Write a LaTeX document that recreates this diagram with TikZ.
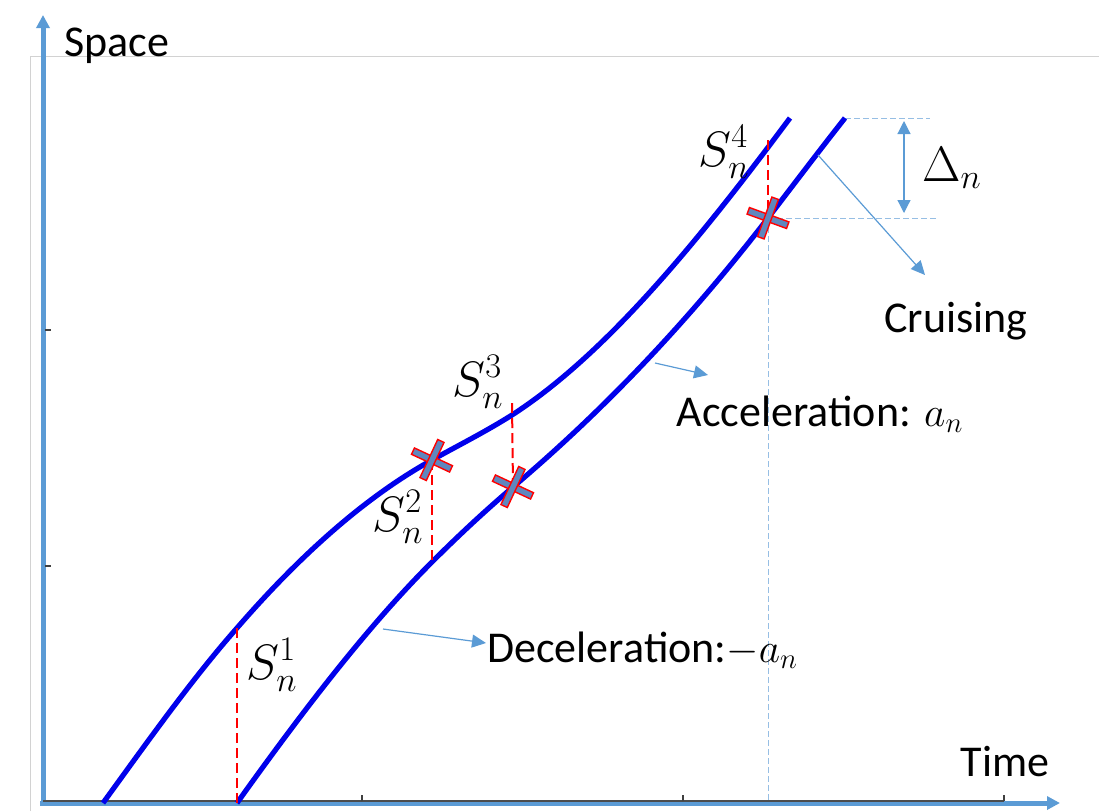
\documentclass[tikz,border=0pt]{standalone}
\usepackage{fontspec}
\setmainfont{Carlito}
\usetikzlibrary{arrows.meta}
\definecolor{axisblue}{RGB}{91,155,213}
\definecolor{curveblue}{RGB}{0,0,235}
\definecolor{markfill}{RGB}{95,135,190}
\definecolor{guideblue}{RGB}{150,190,228}
\begin{document}
\begin{tikzpicture}[x=0.5pt,y=-0.5pt,
  axis/.style={axisblue,line width=2.5pt,-{Triangle[length=6.5pt,width=6.5pt]}},
  curve/.style={curveblue,line width=2.6pt},
  sdash/.style={red,line width=1pt,dash pattern=on 5pt off 2.5pt},
  guide/.style={guideblue,line width=0.5pt,dash pattern=on 3pt off 1.5pt},
  note/.style={axisblue,line width=0.6pt,-{Triangle[length=7pt,width=6.5pt]}},
  lbl/.style={font=\fontsize{22}{26}\selectfont},
  mlbl/.style={font=\fontsize{25}{29}\selectfont},
  crossmark/.pic={\foreach \r in {0,90}
    \filldraw[fill=markfill,draw=red,line width=0.7pt,rotate=\r] (-21,-3.5) rectangle (21,3.5);}]
\useasboundingbox (0,0) rectangle (1099,811);
% frame and axes
\draw[gray!35,line width=0.5pt] (30,811)--(30,56)--(1099,56);
\draw[axis] (43,805)--(43,15);
\draw[axis] (40,803)--(1060,803);
\draw[black!70,line width=0.6pt] (43,801)--(1004,801);
\foreach \x in {362,683,1004} \draw[black!75,line width=1.2pt] (\x,801)--(\x,795);
\foreach \y in {330,566} \draw[black!75,line width=1.2pt] (45,\y)--(51,\y);
\node[lbl] (space) at (117,46) {Space};
\node[lbl] (time) at (1005,761) {Time};
% points on the trajectories
\coordinate (u0) at (103,803);
\coordinate (u1) at (237,628); \coordinate (b1) at (237,803);
\coordinate (u2) at (432,460); \coordinate (b2) at (432,562);
\coordinate (u3) at (512,415); \coordinate (b3) at (513,487);
\coordinate (u4) at (768,140); \coordinate (b4) at (768,218);
\coordinate (utop) at (790,118); \coordinate (btop) at (845,118);
% guides
\draw[guide] (btop)--(930,118);
\draw[guide] (b4)--(937,218);
\draw[guide] (b4)--(768,801);
\draw[axisblue,line width=0.6pt,{Triangle[length=6.5pt,width=6.5pt]}-{Triangle[length=6.5pt,width=6.5pt]}] (904,121)--(904,213);
\node[mlbl] (delta) at (952,168) {$\Delta_n$};
% trajectories
\draw[curve] (u0) .. controls (148,741) and (192,679) .. (u1)
  .. controls (302,553) and (367,496) .. (u2)
  .. controls (459,445) and (485,432) .. (u3)
  .. controls (605,355) and (697,243) .. (utop);
\draw[curve] (b1) .. controls (302,712) and (367,627) .. (b2)
  .. controls (459,535) and (486,510) .. (b3)
  .. controls (598,415) and (683,328) .. (b4)
  .. controls (794,184) and (819,151) .. (btop);
% gaps
\draw[sdash] (u1)--(b1);
\draw[sdash] (u2)--(b2);
\draw[sdash] (512,403)--(b3);
\draw[sdash] (u4)--(b4);
\pic[rotate=-25] at (u2) {crossmark};
\pic[rotate=-25] at (b3) {crossmark};
\pic[rotate=-20] at (b4) {crossmark};
\node[mlbl] (s1) at (272,665) {$S_n^1$};
\node[mlbl] (s2) at (398,517) {$S_n^2$};
\node[mlbl] (s3) at (478,382) {$S_n^3$};
\node[mlbl] (s4) at (724,152) {$S_n^4$};
% phase labels
\coordinate (cruiseA) at (818,155); \coordinate (cruiseB) at (925,275);
\coordinate (accA) at (655,363); \coordinate (accB) at (708,375);
\coordinate (decA) at (383,629); \coordinate (decB) at (486,643);
\draw[note] (cruiseA)--(cruiseB);
\draw[note] (accA)--(accB);
\draw[note] (decA)--(decB);
\node[lbl] (cruise) at (956,321) {Cruising};
\node[lbl] (acc) at (820,414) {Acceleration: $a_n$};
\node[lbl,anchor=west,inner sep=0pt] (dec) at (487,650) {Deceleration:$-a_n$};
\end{tikzpicture}
\end{document}
